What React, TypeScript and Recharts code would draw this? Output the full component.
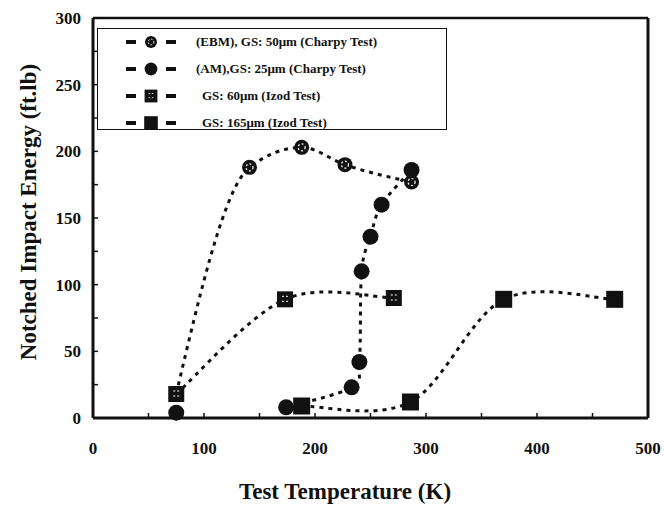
import React from 'react';
import { LineChart, Line, XAxis, YAxis, ReferenceLine, Label } from 'recharts';

// values
const ebmTemp = [75, 141, 188, 227, 287];
const ebmEnergy = [18, 188, 203, 190, 177];

const amTemp = [174, 233, 240, 242, 250, 260, 287];
const amEnergy = [8, 23, 42, 110, 136, 160, 186];
// the 77 K AM point is not joined to the rest of the curve
const amLowTemp = [75];
const amLowEnergy = [4];

const izod60Temp = [75, 173, 271];
const izod60Energy = [18, 89, 90];

const izod165Temp = [188, 286, 370, 470];
const izod165Energy = [9, 12, 89, 89];

const xTicks = [0, 50, 100, 150, 200, 250, 300, 350, 400, 450, 500];
const yTicks = [0, 25, 50, 75, 100, 125, 150, 175, 200, 225, 250, 275, 300];
const xLabels = [0, 100, 200, 300, 400, 500];
const yLabels = [0, 50, 100, 150, 200, 250, 300];

const legendItems = [
  { key: 'ebm', text: '(EBM), GS: 50\u03bcm (Charpy Test)', indent: 0 },
  { key: 'am', text: '(AM),GS: 25\u03bcm (Charpy Test)', indent: 0 },
  { key: 'i60', text: 'GS: 60\u03bcm (Izod Test)', indent: 6 },
  { key: 'i165', text: 'GS: 165\u03bcm (Izod Test)', indent: 6 },
];

const toPoints = (t: number[], e: number[]) => t.map((x, i) => ({ t: x, e: e[i] }));

const FONT = '"Liberation Serif", "Times New Roman", serif';

// Excel-style smoothed line (Catmull-Rom through every point)
const excelSmooth = (context: any) => {
  let pts: number[][] = [];
  return {
    areaStart() {},
    areaEnd() {},
    lineStart() {
      pts = [];
    },
    point(x: number, y: number) {
      pts.push([+x, +y]);
    },
    lineEnd() {
      if (!pts.length) return;
      context.moveTo(pts[0][0], pts[0][1]);
      for (let i = 0; i < pts.length - 1; i++) {
        const p0 = pts[i - 1] || pts[i];
        const p1 = pts[i];
        const p2 = pts[i + 1];
        const p3 = pts[i + 2] || p2;
        context.bezierCurveTo(
          p1[0] + (p2[0] - p0[0]) / 6,
          p1[1] + (p2[1] - p0[1]) / 6,
          p2[0] - (p3[0] - p1[0]) / 6,
          p2[1] - (p3[1] - p1[1]) / 6,
          p2[0],
          p2[1]
        );
      }
    },
  };
};

const Marker = ({ kind, cx, cy }: { kind: string; cx: number; cy: number }) => {
  if (kind === 'ebm') {
    return (
      <g>
        <circle cx={cx} cy={cy} r={7.5} fill="#111" />
        <circle cx={cx} cy={cy} r={3.5} fill="none" stroke="#fff" strokeWidth={1.2} strokeDasharray="2 2" />
      </g>
    );
  }
  if (kind === 'am') return <circle cx={cx} cy={cy} r={8} fill="#111" />;
  if (kind === 'i60') {
    return (
      <g>
        <rect x={cx - 8} y={cy - 8} width={16} height={16} fill="#111" />
        <line x1={cx - 3} y1={cy - 3} x2={cx + 3} y2={cy - 3} stroke="#fff" strokeWidth={1} strokeDasharray="2 2" />
        <line x1={cx - 3} y1={cy + 2} x2={cx + 3} y2={cy + 2} stroke="#fff" strokeWidth={1} strokeDasharray="2 2" />
      </g>
    );
  }
  return <rect x={cx - 8.5} y={cy - 8.5} width={17} height={17} fill="#111" />;
};

const dotFor = (kind: string) => (props: any) => {
  const { cx, cy, index } = props;
  if (cx == null || cy == null) return <g key={`${kind}-${index}`} />;
  return (
    <g key={`${kind}-${index}`}>
      <Marker kind={kind} cx={cx} cy={cy} />
    </g>
  );
};

const XTick = (props: any) => {
  const { x, y, payload } = props;
  const v = payload.value;
  return (
    <g>
      <line x1={x} y1={y} x2={x} y2={y - 5} stroke="#111" strokeWidth={1.5} />
      {xLabels.includes(v) && (
        <text x={x} y={y + 36} textAnchor="middle" fontFamily={FONT} fontWeight="bold" fontSize={17} fill="#111">
          {v}
        </text>
      )}
    </g>
  );
};

const YTick = (props: any) => {
  const { x, y, payload } = props;
  const v = payload.value;
  return (
    <g>
      <line x1={x} y1={y} x2={x + 5} y2={y} stroke="#111" strokeWidth={1.5} />
      {yLabels.includes(v) && (
        <text x={x - 12} y={y + 6} textAnchor="end" fontFamily={FONT} fontWeight="bold" fontSize={17} fill="#111">
          {v}
        </text>
      )}
    </g>
  );
};

const LegendBox = () => (
  <div
    style={{
      position: 'absolute',
      left: 97,
      top: 28,
      width: 350,
      height: 102,
      border: '1px solid #111',
      boxSizing: 'border-box',
      background: '#fff',
    }}
  >
    {legendItems.map((item, i) => (
      <div
        key={item.key}
        style={{ position: 'absolute', left: 0, top: 2 + i * 27, height: 22, display: 'flex', alignItems: 'center' }}
      >
        <svg width={90} height={22} style={{ display: 'block' }}>
          <line x1={28} y1={11} x2={38} y2={11} stroke="#111" strokeWidth={4} />
          <g transform="translate(53 11) scale(0.8)">
            <Marker kind={item.key} cx={0} cy={0} />
          </g>
          <line x1={68} y1={11} x2={78} y2={11} stroke="#111" strokeWidth={4} />
        </svg>
        <span
          style={{
            marginLeft: 8 + item.indent,
            fontFamily: FONT,
            fontWeight: 'bold',
            fontSize: 13,
            color: '#111',
            whiteSpace: 'nowrap',
          }}
        >
          {item.text}
        </span>
      </div>
    ))}
  </div>
);

const series = [
  { key: 'ebm', data: toPoints(ebmTemp, ebmEnergy), line: true, curve: 'monotone' },
  { key: 'am', data: toPoints(amTemp, amEnergy), line: true },
  { key: 'amLow', data: toPoints(amLowTemp, amLowEnergy), line: false, marker: 'am' },
  { key: 'i60', data: toPoints(izod60Temp, izod60Energy), line: true },
  { key: 'i165', data: toPoints(izod165Temp, izod165Energy), line: true },
];

export default function App() {
  return (
    <div style={{ position: 'absolute', left: 0, top: 0, width: 664, height: 506, background: '#fff' }}>
      <LineChart width={664} height={506} margin={{ top: 18, right: 16, bottom: 0, left: 0 }}>
        <XAxis
          type="number"
          dataKey="t"
          domain={[0, 500]}
          ticks={xTicks}
          interval={0}
          height={88}
          tickSize={0}
          tickMargin={0}
          tickLine={false}
          tick={<XTick />}
          axisLine={{ stroke: '#111', strokeWidth: 3 }}
          allowDuplicatedCategory={false}
        >
          <Label
            content={() => (
              <text x={345} y={499} textAnchor="middle" fontFamily={FONT} fontWeight="bold" fontSize={23} fill="#111">
                Test Temperature (K)
              </text>
            )}
          />
        </XAxis>
        <YAxis
          type="number"
          dataKey="e"
          domain={[0, 300]}
          ticks={yTicks}
          interval={0}
          width={93}
          tickSize={0}
          tickMargin={0}
          tickLine={false}
          tick={<YTick />}
          axisLine={{ stroke: '#111', strokeWidth: 3 }}
        >
          <Label
            content={() => (
              <text
                x={36}
                y={212}
                transform="rotate(-90 36 212)"
                textAnchor="middle"
                fontFamily={FONT}
                fontWeight="bold"
                fontSize={23}
                fill="#111"
              >
                Notched Impact Energy (ft.lb)
              </text>
            )}
          />
        </YAxis>
        <ReferenceLine y={300} stroke="#111" strokeWidth={2.5} />
        <ReferenceLine x={500} stroke="#111" strokeWidth={3} />
        {series.map((s) => (
          <Line
            key={s.key}
            data={s.data}
            dataKey="e"
            type={(s.curve || excelSmooth) as any}
            stroke={s.line ? '#111' : 'none'}
            strokeWidth={3}
            strokeDasharray="4 5"
            dot={dotFor(s.marker || s.key)}
            activeDot={false}
            isAnimationActive={false}
          />
        ))}
      </LineChart>
      <LegendBox />
    </div>
  );
}
